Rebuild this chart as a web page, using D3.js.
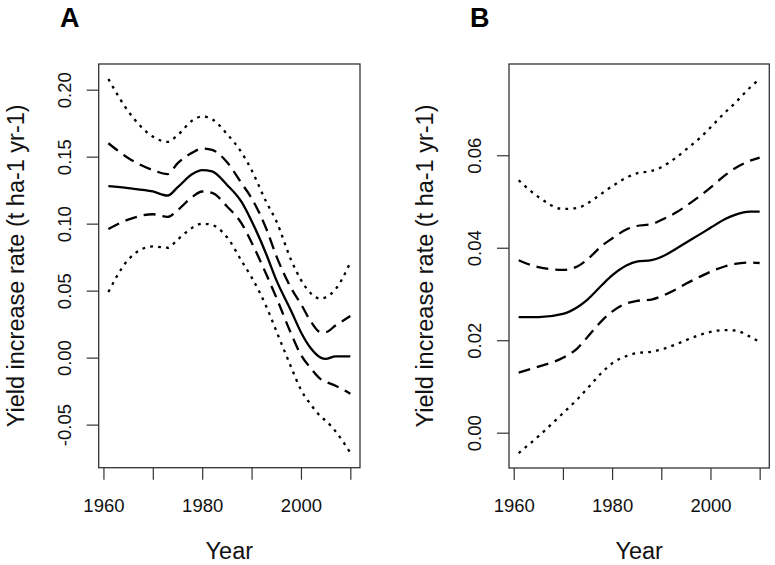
<!DOCTYPE html>
<html>
<head>
<meta charset="utf-8">
<script src="https://cdn.jsdelivr.net/npm/d3@7"></script>
<style>
  body { margin: 0; background: #fff; }
  svg { display: block; font-family: "Liberation Sans", Arial, sans-serif; }
</style>
</head>
<body>
<div id="chart"></div>
<script>
// panel A
var yearsA = [1961, 1965, 1970, 1973, 1975, 1978, 1980, 1982, 1985, 1988, 1990, 1993, 1995, 1998, 2000, 2002, 2004, 2005, 2007, 2010];
var fitA    = [0.128, 0.1265, 0.124, 0.121, 0.127, 0.137, 0.140, 0.139, 0.129, 0.116, 0.102, 0.077, 0.058, 0.035, 0.019, 0.007, 0.000, -0.001, 0.001, 0.001];
var upperA  = [0.160, 0.149, 0.140, 0.137, 0.145, 0.153, 0.156, 0.155, 0.146, 0.130, 0.119, 0.096, 0.076, 0.052, 0.040, 0.027, 0.019, 0.019, 0.024, 0.031];
var lowerA  = [0.096, 0.103, 0.107, 0.105, 0.110, 0.120, 0.124, 0.123, 0.113, 0.100, 0.086, 0.062, 0.045, 0.018, 0.002, -0.008, -0.016, -0.018, -0.021, -0.027];
var upper2A = [0.208, 0.184, 0.165, 0.161, 0.166, 0.177, 0.180, 0.178, 0.167, 0.153, 0.140, 0.116, 0.102, 0.073, 0.058, 0.048, 0.044, 0.045, 0.051, 0.071];
var lower2A = [0.049, 0.073, 0.083, 0.082, 0.088, 0.097, 0.100, 0.099, 0.090, 0.072, 0.060, 0.038, 0.020, -0.007, -0.024, -0.035, -0.044, -0.047, -0.055, -0.071];
var yTicksA = [-0.05, 0.00, 0.05, 0.10, 0.15, 0.20];

// panel B
var yearsB = [1961, 1965, 1970, 1973, 1975, 1978, 1980, 1983, 1985, 1988, 1990, 1993, 1995, 1998, 2000, 2003, 2005, 2008, 2010];
var fitB    = [0.0250, 0.0250, 0.0257, 0.0272, 0.0288, 0.0320, 0.0340, 0.0362, 0.0370, 0.0373, 0.0380, 0.0398, 0.0411, 0.0430, 0.0443, 0.0462, 0.0471, 0.0478, 0.0478];
var upperB  = [0.0373, 0.0358, 0.0352, 0.0360, 0.0375, 0.0405, 0.0420, 0.0440, 0.0447, 0.0451, 0.0460, 0.0476, 0.0490, 0.0513, 0.0530, 0.0557, 0.0572, 0.0588, 0.0595];
var lowerB  = [0.0130, 0.0143, 0.0162, 0.0183, 0.0207, 0.0243, 0.0262, 0.0280, 0.0285, 0.0288, 0.0295, 0.0310, 0.0322, 0.0338, 0.0348, 0.0360, 0.0365, 0.0368, 0.0367];
var upper2B = [0.0546, 0.0510, 0.0484, 0.0486, 0.0496, 0.0518, 0.0533, 0.0552, 0.0561, 0.0566, 0.0574, 0.0595, 0.0612, 0.0639, 0.0660, 0.0693, 0.0713, 0.0746, 0.0765];
var lower2B = [-0.0044, -0.0008, 0.0042, 0.0073, 0.0096, 0.0131, 0.0150, 0.0166, 0.0172, 0.0175, 0.0180, 0.0191, 0.0200, 0.0212, 0.0218, 0.0222, 0.0221, 0.0208, 0.0196];
var yTicksB = [0.00, 0.02, 0.04, 0.06];

var xTicks = [1960, 1970, 1980, 1990, 2000, 2010];
var xTickLabels = ["1960", "", "1980", "", "2000", ""];
var xTitle = "Year";
var yTitle = "Yield increase rate (t ha-1 yr-1)";

var svg = d3.select("#chart").append("svg")
  .attr("width", 775)
  .attr("height", 565);

// plain hyphen for negatives, like R
var fmt = d3.formatLocale({ decimal: ".", thousands: ",", grouping: [3], currency: ["", ""], minus: "-" }).format(".2f");

// R style axis limits: data range plus 4% each side
function padded(ext) {
  var r = ext[1] - ext[0];
  return [ext[0] - 0.04 * r, ext[1] + 0.04 * r];
}

function panel(opt) {
  var g = svg.append("g");
  var left = opt.box[0], top = opt.box[1], right = opt.box[2], bottom = opt.box[3];

  var allY = [].concat(opt.fit, opt.upper, opt.lower, opt.upper2, opt.lower2);
  var x = d3.scaleLinear().domain(padded(d3.extent(opt.years))).range([left, right]);
  var y = d3.scaleLinear().domain(padded(d3.extent(allY))).range([bottom, top]);

  var line = function(vals) {
    return d3.line()
      .x(function(d, i) { return x(opt.years[i]); })
      .y(function(d) { return y(d); })
      .curve(d3.curveMonotoneX)(vals);
  };

  var series = [
    { v: opt.upper2, dash: "2.8,5.2" },
    { v: opt.lower2, dash: "2.8,5.2" },
    { v: opt.upper, dash: "12,7" },
    { v: opt.lower, dash: "12,7" },
    { v: opt.fit, dash: null }
  ];

  g.selectAll("path.series")
    .data(series)
    .enter()
    .append("path")
    .attr("class", "series")
    .attr("d", function(d) { return line(d.v); })
    .attr("fill", "none")
    .attr("stroke", "#000")
    .attr("stroke-width", 2.3)
    .attr("stroke-dasharray", function(d) { return d.dash; });

  // box
  g.append("rect")
    .attr("x", left)
    .attr("y", top)
    .attr("width", right - left)
    .attr("height", bottom - top)
    .attr("fill", "none")
    .attr("stroke", "#333")
    .attr("stroke-width", 1.3);

  var xAxis = g.append("g")
    .attr("transform", "translate(0," + bottom + ")")
    .call(d3.axisBottom(x).tickValues(xTicks).tickSize(12)
      .tickFormat(function(d, i) { return xTickLabels[i]; }));
  xAxis.select(".domain").remove();
  xAxis.selectAll(".tick line").attr("stroke", "#333").attr("stroke-width", 1.2);
  xAxis.selectAll(".tick text")
    .attr("y", 44)
    .attr("dy", 0)
    .attr("fill", "#111")
    .style("font-size", "18.5px");

  var yAxis = g.append("g")
    .attr("transform", "translate(" + left + ",0)")
    .call(d3.axisLeft(y).tickValues(opt.yTicks).tickSize(12).tickFormat(fmt));
  yAxis.select(".domain").remove();
  yAxis.selectAll(".tick line").attr("stroke", "#333").attr("stroke-width", 1.2);
  yAxis.selectAll(".tick text")
    .attr("transform", "rotate(-90)")
    .attr("x", 0)
    .attr("y", -28)
    .attr("dy", 0)
    .attr("text-anchor", "middle")
    .attr("fill", "#111")
    .style("font-size", "18.5px");

  g.append("text")
    .attr("x", (left + right) / 2)
    .attr("y", 559)
    .attr("text-anchor", "middle")
    .attr("fill", "#111")
    .style("font-size", "23.5px")
    .text(xTitle);

  g.append("text")
    .attr("transform", "translate(" + opt.yTitleX + "," + (top + bottom) / 2 + ") rotate(-90)")
    .attr("text-anchor", "middle")
    .attr("fill", "#111")
    .style("font-size", "23.5px")
    .text(yTitle);

  g.append("text")
    .attr("x", opt.labelX)
    .attr("y", 27)
    .attr("fill", "#000")
    .style("font-size", "27px")
    .style("font-weight", "bold")
    .text(opt.label);
}

panel({
  label: "A", labelX: 60, yTitleX: 23.5,
  box: [98.7, 64, 360, 467.7],
  years: yearsA, fit: fitA, upper: upperA, lower: lowerA, upper2: upper2A, lower2: lower2A,
  yTicks: yTicksA
});

panel({
  label: "B", labelX: 470, yTitleX: 433,
  box: [509, 64, 769.3, 468],
  years: yearsB, fit: fitB, upper: upperB, lower: lowerB, upper2: upper2B, lower2: lower2B,
  yTicks: yTicksB
});
</script>
</body>
</html>
